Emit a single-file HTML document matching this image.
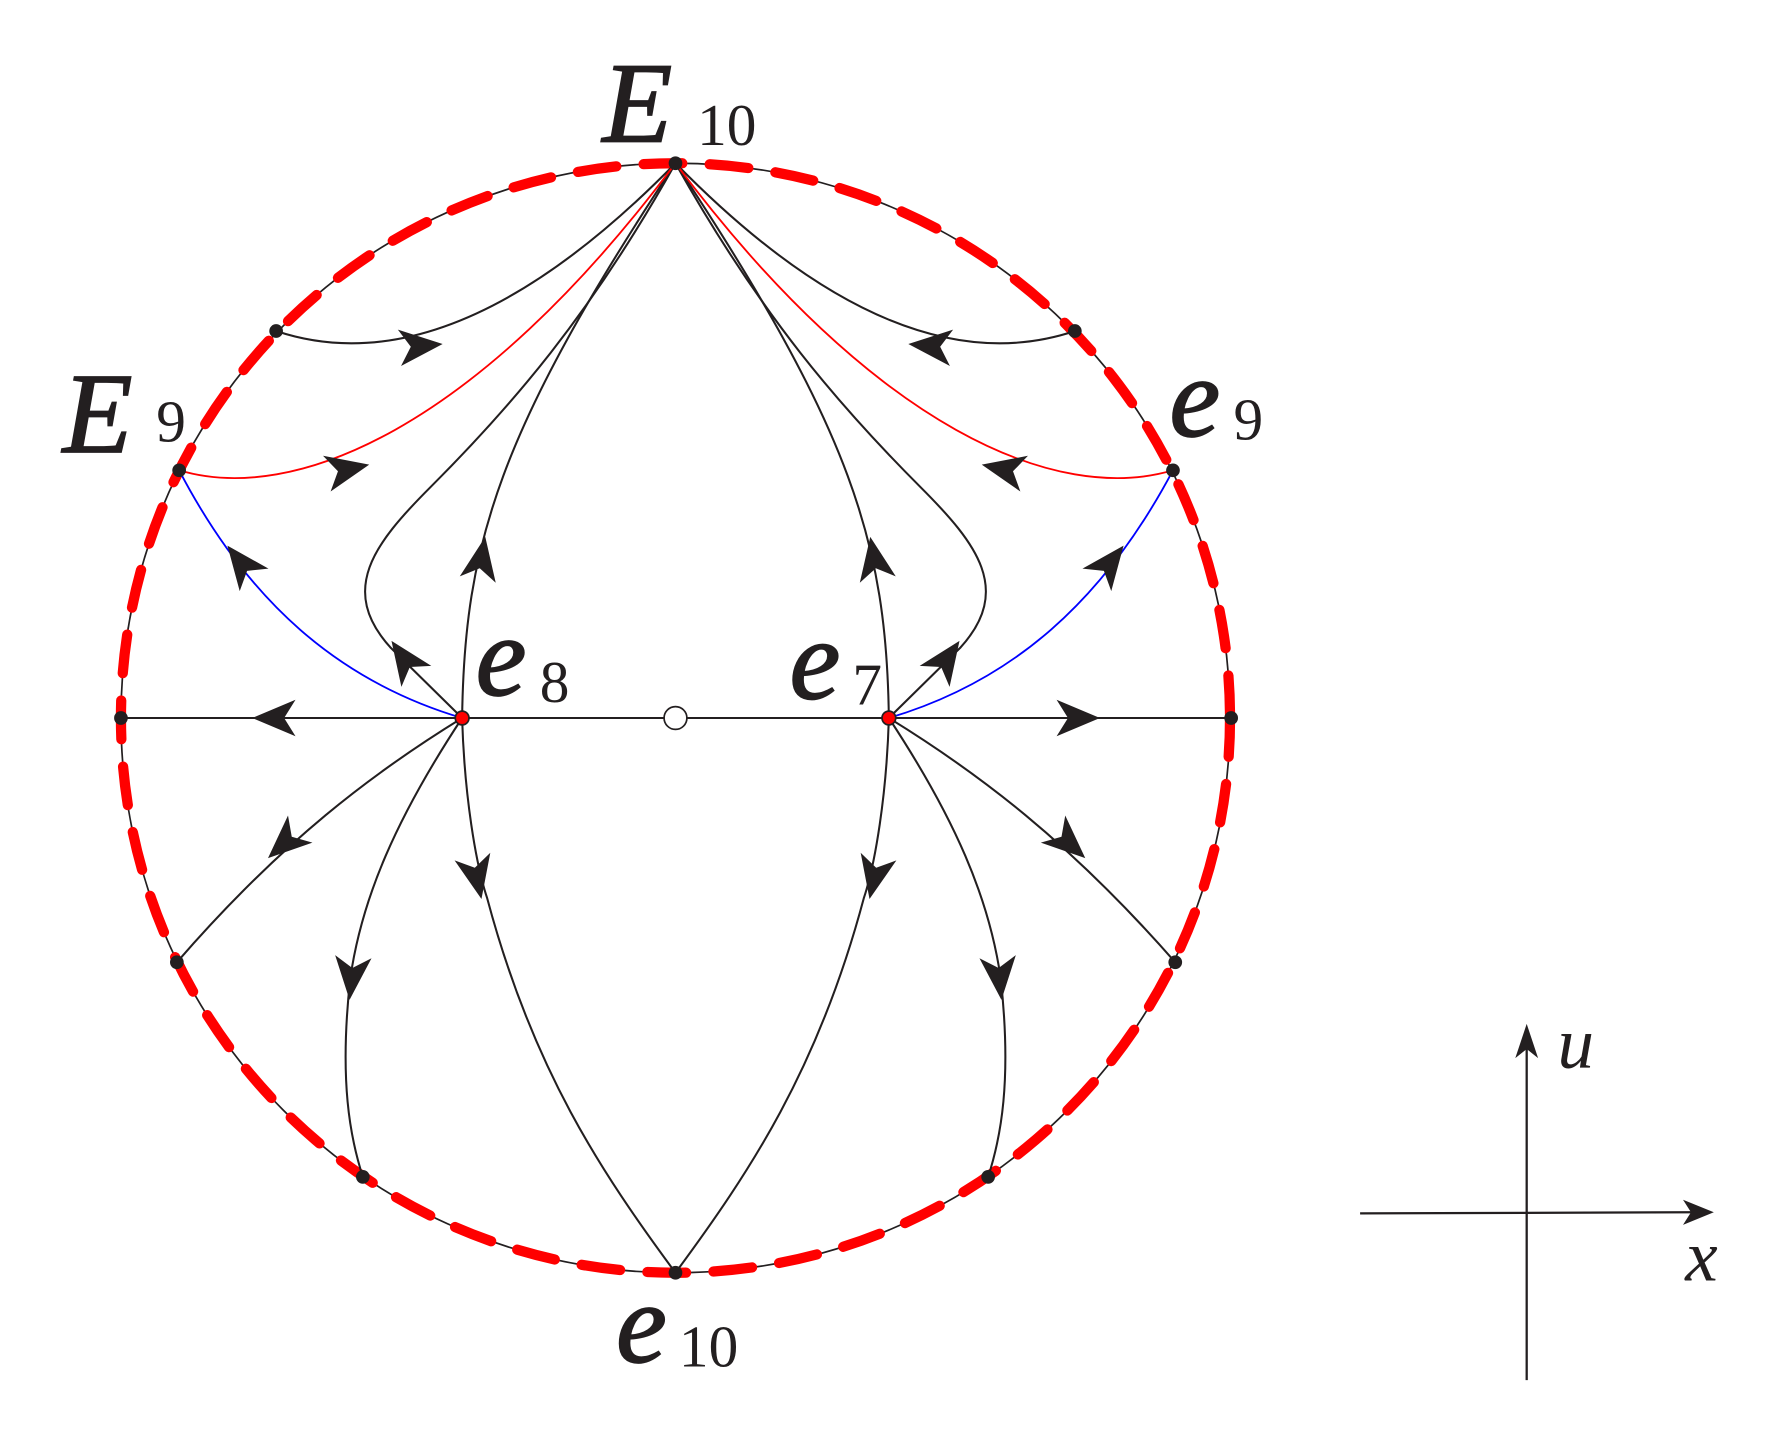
<!DOCTYPE html>
<html><head><meta charset="utf-8"><style>
html,body{margin:0;padding:0;background:#fff;}
svg{display:block}
text{font-family:"Liberation Serif",serif;fill:#231f20}
</style></head><body>
<svg width="1780" height="1436" viewBox="0 0 1560 1258" preserveAspectRatio="none" xmlns="http://www.w3.org/2000/svg">
<defs>
<path id="ah" d="M19,0 L-19,-16 L-9,0 L-19,16 Z" fill="#231f20"/>
</defs>
<g transform="translate(-3,-3)">
<circle cx="595" cy="632" r="486" fill="none" stroke="#231f20" stroke-width="1.5"/>
<circle cx="595" cy="632" r="486" fill="none" stroke="#ff0000" stroke-width="9" stroke-dasharray="34 24" stroke-linecap="round"/>
<g fill="none" stroke="#231f20" stroke-width="1.8">
<path d="M245,293 Q400,345 595,146"/>
<path d="M945,293 Q790,345 595,146"/>
<path d="M108,632 L1082,632"/>
<path d="M408,632 L345,570 C300,520 330,480 380,430 C450,360 520,280 595,146"/>
<path d="M782,632 L845,570 C890,520 860,480 810,430 C740,360 670,280 595,146"/>
<path d="M408,632 C410,480 440,380 595,146"/>
<path d="M782,632 C780,480 750,380 595,146"/>
<path d="M408,632 C330,680 250,740 158,846"/>
<path d="M782,632 C860,680 940,740 1033,846"/>
<path d="M408,632 C350,720 320,790 310,860 C300,950 310,1000 321,1034"/>
<path d="M782,632 C840,720 870,790 880,860 C890,950 880,1000 869,1034"/>
<path d="M408,632 C410,700 420,760 430,790 C470,940 530,1030 595,1118"/>
<path d="M782,632 C780,700 770,760 760,790 C720,940 660,1030 595,1118"/>
</g>
<g fill="none" stroke="#ff0000" stroke-width="1.6">
<path d="M160,415 C260,445 420,380 595,146"/>
<path d="M1031,415 C930,445 770,380 595,146"/>
</g>
<g fill="none" stroke="#0000ff" stroke-width="1.6">
<path d="M408,632 C300,600 220,530 160,415"/>
<path d="M782,632 C890,600 970,530 1031,415"/>
</g>
<use href="#ah" transform="translate(372,306) rotate(-5)"/>
<use href="#ah" transform="translate(818,306) rotate(185)"/>
<use href="#ah" transform="translate(308,414) rotate(-12)"/>
<use href="#ah" transform="translate(882,414) rotate(192)"/>
<use href="#ah" transform="translate(214,496) rotate(-128)"/>
<use href="#ah" transform="translate(976,496) rotate(-52)"/>
<use href="#ah" transform="translate(357,580) rotate(-125)"/>
<use href="#ah" transform="translate(833,580) rotate(-55)"/>
<use href="#ah" transform="translate(425,492) rotate(-80)"/>
<use href="#ah" transform="translate(769,492) rotate(-100)"/>
<use href="#ah" transform="translate(243,632) rotate(180)"/>
<use href="#ah" transform="translate(948,632) rotate(0)"/>
<use href="#ah" transform="translate(252,742) rotate(138)"/>
<use href="#ah" transform="translate(940,742) rotate(42)"/>
<use href="#ah" transform="translate(311,860) rotate(95)"/>
<use href="#ah" transform="translate(879,860) rotate(85)"/>
<use href="#ah" transform="translate(421,772) rotate(78)"/>
<use href="#ah" transform="translate(769,772) rotate(102)"/>
<g fill="#231f20">
<circle cx="595" cy="146" r="6"/><circle cx="595" cy="1118" r="6"/>
<circle cx="109" cy="632" r="6"/><circle cx="1082" cy="632" r="6"/>
<circle cx="245" cy="293" r="6"/><circle cx="945" cy="293" r="6"/>
<circle cx="160" cy="415" r="6"/><circle cx="1031" cy="415" r="6"/>
<circle cx="158" cy="846" r="6"/><circle cx="1033" cy="846" r="6"/>
<circle cx="321" cy="1034" r="6"/><circle cx="869" cy="1034" r="6"/>
</g>
<circle cx="408" cy="632" r="6" fill="#ff0000" stroke="#231f20" stroke-width="1.5"/>
<circle cx="782" cy="632" r="6" fill="#ff0000" stroke="#231f20" stroke-width="1.5"/>
<circle cx="595" cy="632" r="10" fill="#fff" stroke="#231f20" stroke-width="1.5"/>
<g stroke="#231f20" stroke-width="1.5">
<text x="531" y="127" font-size="100" font-style="italic">E</text><text x="614" y="130" font-size="52" stroke-width="0">10</text>
<text x="58" y="399" font-size="100" font-style="italic">E</text><text x="140" y="390" font-size="52" stroke-width="0">9</text>
<text x="1028" y="385" font-size="100" font-style="italic">e</text><text x="1084" y="388" font-size="52" stroke-width="0">9</text>
<text x="420" y="612" font-size="100" font-style="italic">e</text><text x="476" y="618" font-size="52" stroke-width="0">8</text>
<text x="695" y="615" font-size="100" font-style="italic">e</text><text x="750" y="620" font-size="52" stroke-width="0">7</text>
<text x="543" y="1196" font-size="100" font-style="italic">e</text><text x="598" y="1200" font-size="52" stroke-width="0">10</text>
</g>
<g stroke="#231f20" stroke-width="2" fill="none">
<path d="M1341,1212 L1341,910"/><path d="M1195,1066 L1485,1065"/>
</g>
<path d="M1341,900 L1331,930 L1341,922 L1351,930 Z" fill="#231f20"/>
<path d="M1505,1065 L1478,1054 L1485,1065 L1478,1076 Z" fill="#231f20"/>
<text x="1368" y="938" font-size="64" font-style="italic">u</text>
<text x="1480" y="1125" font-size="64" font-style="italic">x</text>
</g>
</svg>
</body></html>
